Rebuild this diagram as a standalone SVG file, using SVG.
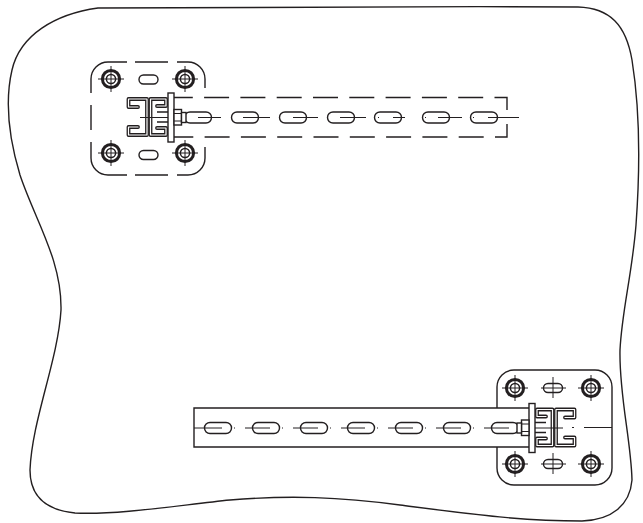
<svg xmlns="http://www.w3.org/2000/svg" width="643" height="523" viewBox="0 0 643 523">
<style>
.l{fill:none;stroke:#231f20;stroke-width:1.4}
.w{fill:#fff;stroke:#231f20;stroke-width:1.4}
.t{fill:none;stroke:#231f20;stroke-width:1}
.cb{fill:none;stroke:#231f20;stroke-width:3.8;stroke-linejoin:round;stroke-linecap:round}
.cw{fill:none;stroke:#fff;stroke-width:1.2;stroke-linejoin:round;stroke-linecap:round}
</style>
<defs>
<g id="bolt">
<circle r="8.6" fill="none" stroke="#231f20" stroke-width="3"/>
<circle r="4.6" fill="none" stroke="#231f20" stroke-width="1.5"/>
<path class="t" d="M-13,0H13M0,-13V13"/>
</g>
<path id="slotH" class="w" d="M-8,-5.500H8A5.500,5.500 0 0 1 8,5.500H-8A5.500,5.500 0 0 1 -8,-5.500Z"/>
<g id="assy">
<path class="cb" d="M138,107H128.500V99H147V135H128.500V127H138"/>
<path class="cw" d="M138,107H128.500V99H147V135H128.500V127H138"/>
<path class="cb" d="M157,106H166V99H150.500V135H166V128H157"/>
<path class="cw" d="M157,106H166V99H150.500V135H166V128H157"/>
<path class="l" d="M157,112H168M157,122H168"/>
<path class="t" d="M140,117.500H168"/>
<rect class="w" x="168" y="93" width="6" height="49"/>
<rect class="w" x="174" y="109.500" width="7.500" height="15.500"/>
<path class="t" d="M174,113.500H181.500M174,121H181.500"/>
<rect class="w" x="181.500" y="112.500" width="4.500" height="10"/>
</g>
</defs>
<path id="outline" class="l" d="M98,8C200,7 400,6 578,7C610,8 626,25 632,60C640,110 640,170 636,225C632,275 622,310 620,350C619,395 631,440 632,480C630,505 612,520 582,521C520,521 470,514 400,505C340,497 290,495 230,500C180,505 120,515 75,513C45,510 30,495 30,470C32,420 58,360 61,310C62,260 35,220 20,175C8,135 5,100 12,70C20,35 55,14 98,8Z"/>
<g id="plate-top">
<path class="l" d="M91,93V79A17,17 0 0 1 108,62H127M135,62H168M177,62H188A17,17 0 0 1 205,79V88M205,147V158A17,17 0 0 1 188,175H177M168,175H135M127,175H108A17,17 0 0 1 91,158V142M91,130V105"/>
<use href="#bolt" x="111" y="79"/><use href="#bolt" x="185" y="79"/><use href="#bolt" x="111" y="153"/><use href="#bolt" x="185" y="153"/>
<path class="w" d="M139,79.500A4.500,4.500 0 0 1 143.500,75H153.500A4.500,4.500 0 0 1 153.500,84H143.500A4.500,4.500 0 0 1 139,79.500Z"/>
<path class="w" d="M139,155A4.500,4.500 0 0 1 143.500,150.500H153.500A4.500,4.500 0 0 1 153.500,159.500H143.500A4.500,4.500 0 0 1 139,155Z"/>
</g>
<g id="beam-top">
<path class="l" stroke-dasharray="25 11.300" d="M507,110V97.500H174M507,124V137H174"/>
<use href="#slotH" x="198" y="117.500"/><use href="#slotH" x="245" y="117.500"/><use href="#slotH" x="293" y="117.500"/><use href="#slotH" x="341" y="117.500"/><use href="#slotH" x="388" y="117.500"/><use href="#slotH" x="436" y="117.500"/><use href="#slotH" x="484" y="117.500"/>
<path class="t" d="M198,117.500H221M243,117.500H270M293,117.500H318M340,117.500H366M378,117.500H379M393,117.500H405M425,117.500H426M438,117.500H462M473,117.500H474M488,117.500H519"/>
</g>
<g id="assembly-top"><use href="#assy"/></g>
<g id="plate-bottom">
<rect class="l" x="497" y="370" width="115" height="115" rx="17"/>
<use href="#bolt" x="515" y="388"/><use href="#bolt" x="591" y="388"/><use href="#bolt" x="515" y="464"/><use href="#bolt" x="591" y="464"/>
<path class="l" d="M548,383.500H558A4.500,4.500 0 0 1 558,392.500H548A4.500,4.500 0 0 1 548,383.500ZM548,459.500H558A4.500,4.500 0 0 1 558,468.500H548A4.500,4.500 0 0 1 548,459.500Z"/>
<path class="t" d="M541,388H566M553,377V398M541,464H566M553,453V474"/>
</g>
<g id="beam-bottom">
<path class="w" d="M530,408H194V447H530"/>
<use href="#slotH" x="218" y="428"/><use href="#slotH" x="266" y="428"/><use href="#slotH" x="314" y="428"/><use href="#slotH" x="361" y="428"/><use href="#slotH" x="409" y="428"/><use href="#slotH" x="457" y="428"/><use href="#slotH" x="505" y="428"/>
<path class="t" d="M194,428H222M234,428H235M245,428H270M282,428H283M293,428H318M330,428H331M341,428H365M377,428H378M388,428H413M425,428H426M436,428H461M473,428H474M484,428H509M584,427.500H612M572,427.500H574"/>
</g>
<g id="assembly-bottom"><use href="#assy" transform="translate(703 310.500) scale(-1 1)"/></g>
</svg>
